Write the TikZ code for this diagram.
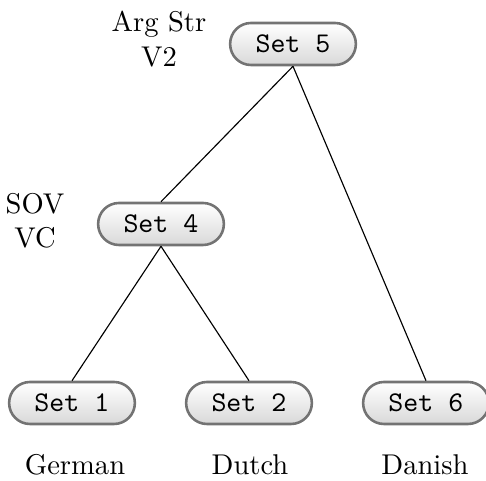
\documentclass[tikz,border=0pt]{standalone}
\begin{document}
\begin{tikzpicture}[x=0.35pt,y=-0.35pt,
  setbox/.style={draw=gray!90!black, line width=0.9pt, rounded corners=7.3pt,
    top color=white, bottom color=gray!30, minimum width=44pt, minimum height=14.7pt,
    inner sep=0pt, font=\ttfamily},
  lab/.style={align=center, inner sep=0pt, font=\rmfamily},
  edge/.style={draw=black, line width=0.4pt}]
\useasboundingbox (0,0) rectangle (486,481);
\node[setbox] (s5) at (293,44) {Set 5};
\node[setbox] (s4) at (161,224) {Set 4};
\node[setbox] (s1) at (72,403) {Set 1};
\node[setbox] (s2) at (249,403) {Set 2};
\node[setbox] (s6) at (426,403) {Set 6};
\draw[edge] (s5.south) -- (s4.north);
\draw[edge] (s5.south) -- (s6.north);
\draw[edge] (s4.south) -- (s1.north);
\draw[edge] (s4.south) -- (s2.north);
\node[lab] (l5) at (159,39) {Arg Str\\V2};
\node[lab] (l4) at (35,221) {SOV\\VC};
\node[lab] (g) at (75,465) {German};
\node[lab] (d) at (250,465) {Dutch};
\node[lab] (da) at (425,465) {Danish};
\end{tikzpicture}
\end{document}
